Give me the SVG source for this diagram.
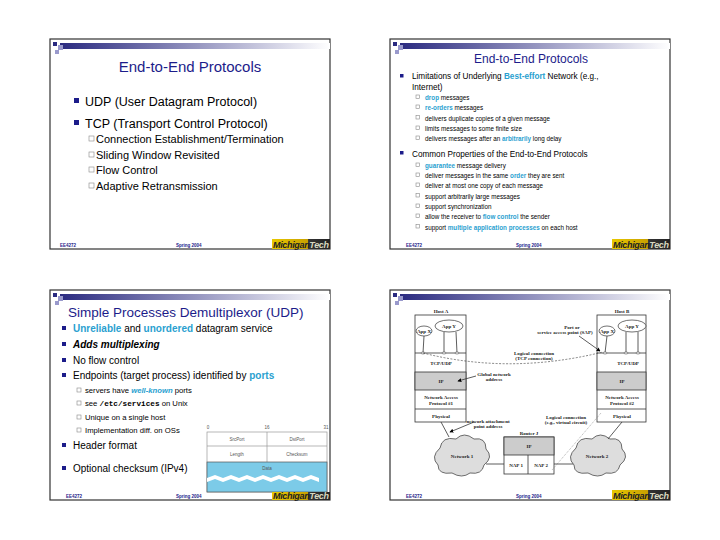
<svg xmlns="http://www.w3.org/2000/svg" width="720" height="540" viewBox="0 0 720 540">
<defs>
<linearGradient id="bar" x1="0" x2="1" y1="0" y2="0"><stop offset="0" stop-color="#2a2a80"/><stop offset="1" stop-color="#ffffff"/></linearGradient>
<linearGradient id="logo" x1="0" x2="1"><stop offset="0" stop-color="#e8c800"/><stop offset="0.62" stop-color="#c8a000"/><stop offset="0.63" stop-color="#333"/><stop offset="1" stop-color="#222"/></linearGradient>
<marker id="ah" viewBox="0 0 6 6" refX="5" refY="3" markerWidth="5" markerHeight="5" orient="auto"><path d="M0,0 L6,3 L0,6 z" fill="#000"/></marker>
</defs>
<style>
.frame{fill:#fff;stroke:#333;stroke-width:1.2}
text{font-family:"Liberation Sans",Arial,sans-serif}
.t{fill:#1c1c8a;text-anchor:middle}
.hl{fill:#2a9fd0;font-weight:bold}
.ft{font-size:4.5px;fill:#1c1c8a;font-weight:bold}
.sq{fill:#1c1c8a}
.sb{fill:none;stroke:#888;stroke-width:0.6}
.d{font-family:"Liberation Serif","Times New Roman",serif;font-size:5px;text-anchor:middle;font-weight:bold;fill:#222}
.ln{stroke:#333;stroke-width:0.8;fill:none}
.lg{font-size:9px;font-style:italic;font-weight:bold;fill:#222}
.lt{fill:#d8d8c0}
</style>
<rect width="720" height="540" fill="#fff"/>
<g id="slide1">
<rect class="frame" x="50" y="39" width="280" height="210"/>
<rect x="60" y="43" width="270" height="6" fill="url(#bar)"/>
<rect x="53" y="42" width="4" height="4" fill="#2a2a80"/><rect x="58" y="45" width="5" height="5" fill="#9999cc"/><rect x="55" y="50" width="4" height="4" fill="#9999cc"/>
<text class="t" x="190" y="72" font-size="15">End-to-End Protocols</text>
<rect class="sq" x="74" y="98" width="5" height="5"/><text x="85" y="106" font-size="12.5">UDP (User Datagram Protocol)</text>
<rect class="sq" x="74" y="120" width="5" height="5"/><text x="85" y="128" font-size="12.5">TCP (Transport Control Protocol)</text>
<g font-size="11"><rect class="sb" x="89" y="136" width="5" height="5"/><text x="96" y="143">Connection Establishment/Termination</text>
<rect class="sb" x="89" y="152" width="5" height="5"/><text x="96" y="159">Sliding Window Revisited</text>
<rect class="sb" x="89" y="167" width="5" height="5"/><text x="96" y="174">Flow Control</text>
<rect class="sb" x="89" y="183" width="5" height="5"/><text x="96" y="190">Adaptive Retransmission</text></g>
<text class="ft" x="60" y="247">EE4272</text><text class="ft" x="176" y="247">Spring 2004</text>
<rect x="272" y="239" width="58" height="10" fill="url(#logo)"/><text class="lg" x="273" y="247.5" textLength="56">Michigan<tspan class="lt">Tech</tspan></text>
</g>
<g id="slide2">
<rect class="frame" x="390" y="39" width="280" height="210"/>
<rect x="400" y="43" width="270" height="6" fill="url(#bar)"/>
<rect x="393" y="42" width="4" height="4" fill="#2a2a80"/><rect x="398" y="45" width="5" height="5" fill="#9999cc"/><rect x="395" y="50" width="4" height="4" fill="#9999cc"/>
<text class="t" x="531" y="63" font-size="12">End-to-End Protocols</text>
<g font-size="8.2"><rect class="sq" x="400" y="74" width="3.5" height="3.5"/><text x="412" y="79">Limitations of Underlying <tspan class="hl">Best-effort</tspan> Network (e.g.,</text><text x="412" y="90">Internet)</text>
<rect class="sq" x="400" y="151" width="3.5" height="3.5"/><text x="412" y="157">Common Properties of the End-to-End Protocols</text></g>
<g font-size="6.3">
<rect class="sb" x="416" y="95" width="3.5" height="3.5"/><text x="425" y="100"><tspan class="hl">drop</tspan> messages</text>
<rect class="sb" x="416" y="105" width="3.5" height="3.5"/><text x="425" y="110"><tspan class="hl">re-orders</tspan> messages</text>
<rect class="sb" x="416" y="115.5" width="3.5" height="3.5"/><text x="425" y="120.5">delivers duplicate copies of a given message</text>
<rect class="sb" x="416" y="126" width="3.5" height="3.5"/><text x="425" y="131">limits messages to some finite size</text>
<rect class="sb" x="416" y="136" width="3.5" height="3.5"/><text x="425" y="141">delivers messages after an <tspan class="hl">arbitrarily</tspan> long delay</text>
<rect class="sb" x="416" y="163" width="3.5" height="3.5"/><text x="425" y="168"><tspan class="hl">guarantee</tspan> message delivery</text>
<rect class="sb" x="416" y="173" width="3.5" height="3.5"/><text x="425" y="178">deliver messages in the same <tspan class="hl">order</tspan> they are sent</text>
<rect class="sb" x="416" y="183" width="3.5" height="3.5"/><text x="425" y="188">deliver at most one copy of each message</text>
<rect class="sb" x="416" y="193.5" width="3.5" height="3.5"/><text x="425" y="198.5">support arbitrarily large messages</text>
<rect class="sb" x="416" y="204" width="3.5" height="3.5"/><text x="425" y="209">support synchronization</text>
<rect class="sb" x="416" y="214" width="3.5" height="3.5"/><text x="425" y="219">allow the receiver to <tspan class="hl">flow control</tspan> the sender</text>
<rect class="sb" x="416" y="224.5" width="3.5" height="3.5"/><text x="425" y="229.5">support <tspan class="hl">multiple application processes</tspan> on each host</text></g>
<text class="ft" x="406" y="247">EE4272</text><text class="ft" x="516" y="247">Spring 2004</text>
<rect x="612" y="239" width="58" height="10" fill="url(#logo)"/><text class="lg" x="613" y="247.5" textLength="56">Michigan<tspan class="lt">Tech</tspan></text>
</g>
<g id="slide3">
<rect class="frame" x="50" y="290" width="280" height="210"/>
<rect x="60" y="294" width="270" height="6" fill="url(#bar)"/>
<rect x="53" y="293" width="4" height="4" fill="#2a2a80"/><rect x="58" y="296" width="5" height="5" fill="#9999cc"/><rect x="55" y="301" width="4" height="4" fill="#9999cc"/>
<text x="68" y="317" font-size="13.5" fill="#1c1c8a">Simple Processes Demultiplexor (UDP)</text>
<g font-size="10">
<rect class="sq" x="62" y="326" width="4" height="4"/><text x="73" y="332"><tspan class="hl">Unreliable</tspan> and <tspan class="hl">unordered</tspan> datagram service</text>
<rect class="sq" x="62" y="342" width="4" height="4"/><text x="73" y="348" font-weight="bold" font-style="italic">Adds multiplexing</text>
<rect class="sq" x="62" y="358" width="4" height="4"/><text x="73" y="364">No flow control</text>
<rect class="sq" x="62" y="373" width="4" height="4"/><text x="73" y="379">Endpoints (target process) identified by <tspan class="hl">ports</tspan></text>
<rect class="sq" x="62" y="443" width="4" height="4"/><text x="73" y="449">Header format</text>
<rect class="sq" x="62" y="466" width="4" height="4"/><text x="73" y="472">Optional checksum (IPv4)</text></g>
<g font-size="7.7">
<rect class="sb" x="77" y="388" width="4" height="4"/><text x="85" y="393">servers have <tspan class="hl" font-style="italic">well-known</tspan> ports</text>
<rect class="sb" x="77" y="401" width="4" height="4"/><text x="85" y="406">see <tspan font-family="Liberation Mono,monospace" font-weight="bold">/etc/services</tspan> on Unix</text>
<rect class="sb" x="77" y="415" width="4" height="4"/><text x="85" y="420">Unique on a single host</text>
<rect class="sb" x="77" y="428" width="4" height="4"/><text x="85" y="433">Implementation diff. on OSs</text></g>
<g id="udp-header" font-size="4.5" fill="#555" text-anchor="middle">
<text x="208" y="429">0</text><text x="267" y="429">16</text><text x="326" y="429">31</text>
<rect x="207" y="432" width="120" height="60" fill="#fff" stroke="#999" stroke-width="0.7"/>
<line x1="207" y1="446" x2="327" y2="446" stroke="#999" stroke-width="0.7"/>
<line x1="267" y1="432" x2="267" y2="462" stroke="#999" stroke-width="0.7"/>
<rect x="207" y="462" width="120" height="30" fill="#7ccbe8" stroke="#555" stroke-width="0.7"/>
<path d="M207,478 l8,-3 8,3 8,-3 8,3 8,-3 8,3 8,-3 8,3 8,-3 8,3 8,-3 8,3 8,-3 8,3 v4 l-8,-3 -8,3 -8,-3 -8,3 -8,-3 -8,3 -8,-3 -8,3 -8,-3 -8,3 -8,-3 -8,3 -8,-3 -8,3 z" fill="#fff"/>
<text x="237" y="441">SrcPort</text><text x="297" y="441">DstPort</text>
<text x="237" y="456">Length</text><text x="297" y="456">Checksum</text>
<text x="267" y="470">Data</text></g>
<text class="ft" x="66" y="498">EE4272</text><text class="ft" x="176" y="498">Spring 2004</text>
<rect x="272" y="492" width="58" height="8" fill="url(#logo)"/><text class="lg" x="273" y="499" font-size="8" textLength="56">Michigan<tspan class="lt">Tech</tspan></text>
</g>
<g id="slide4">
<rect class="frame" x="390" y="290" width="280" height="210"/>
<rect x="400" y="294" width="270" height="6" fill="url(#bar)"/>
<rect x="393" y="293" width="4" height="4" fill="#2a2a80"/><rect x="398" y="296" width="5" height="5" fill="#9999cc"/><rect x="395" y="301" width="4" height="4" fill="#9999cc"/>
<g id="hostA">
<text class="d" x="441" y="313">Host A</text>
<rect x="415" y="315" width="51" height="107" fill="#fff" stroke="#333" stroke-width="0.8"/>
<rect x="415" y="372" width="51" height="18" fill="#ccc" stroke="#333" stroke-width="0.8"/>
<line class="ln" x1="415" y1="353" x2="466" y2="353"/><line class="ln" x1="415" y1="409" x2="466" y2="409"/>
<ellipse cx="424" cy="331" rx="8" ry="5" fill="#fff" stroke="#333" stroke-width="0.7"/><ellipse cx="449" cy="326" rx="14" ry="6" fill="#fff" stroke="#333" stroke-width="0.7"/>
<line class="ln" x1="424" y1="336" x2="423" y2="353"/><line class="ln" x1="444" y1="332" x2="444" y2="353"/><line class="ln" x1="456" y1="332" x2="457" y2="353"/>
<ellipse cx="423" cy="353" rx="2" ry="1" fill="#fff" stroke="#333" stroke-width="0.5"/><ellipse cx="444" cy="353" rx="2" ry="1" fill="#fff" stroke="#333" stroke-width="0.5"/><ellipse cx="457" cy="353" rx="2" ry="1" fill="#fff" stroke="#333" stroke-width="0.5"/>
<text class="d" x="424" y="332.5" font-size="3">App X</text><text class="d" x="449" y="328" font-size="3.5">App Y</text>
<text class="d" x="441" y="365">TCP/UDP</text><text class="d" x="441" y="383">IP</text>
<text class="d" x="441" y="399" font-size="4">Network Access</text><text class="d" x="441" y="405" font-size="4">Protocol #1</text>
<text class="d" x="441" y="418">Physical</text></g>
<g id="hostB">
<text class="d" x="622" y="313">Host B</text>
<rect x="597" y="315" width="49" height="107" fill="#fff" stroke="#333" stroke-width="0.8"/>
<rect x="597" y="372" width="49" height="18" fill="#ccc" stroke="#333" stroke-width="0.8"/>
<line class="ln" x1="597" y1="353" x2="646" y2="353"/><line class="ln" x1="597" y1="409" x2="646" y2="409"/>
<ellipse cx="607" cy="331" rx="8" ry="5" fill="#fff" stroke="#333" stroke-width="0.7"/><ellipse cx="632" cy="326" rx="14" ry="6" fill="#fff" stroke="#333" stroke-width="0.7"/>
<line class="ln" x1="607" y1="336" x2="605" y2="353"/><line class="ln" x1="626" y1="332" x2="626" y2="353"/><line class="ln" x1="638" y1="332" x2="638" y2="353"/>
<ellipse cx="605" cy="353" rx="2" ry="1" fill="#fff" stroke="#333" stroke-width="0.5"/><ellipse cx="626" cy="353" rx="2" ry="1" fill="#fff" stroke="#333" stroke-width="0.5"/><ellipse cx="638" cy="353" rx="2" ry="1" fill="#fff" stroke="#333" stroke-width="0.5"/>
<text class="d" x="607" y="332.5" font-size="3">App X</text><text class="d" x="632" y="328" font-size="3.5">App Y</text>
<text class="d" x="628" y="365">TCP/UDP</text><text class="d" x="622" y="383">IP</text>
<text class="d" x="622" y="399" font-size="4">Network Access</text><text class="d" x="622" y="405" font-size="4">Protocol #2</text>
<text class="d" x="622" y="418">Physical</text></g>
<g id="router">
<text class="d" x="529" y="435">Router J</text>
<rect x="504" y="437" width="50" height="37" fill="#fff" stroke="#333" stroke-width="0.8"/>
<rect x="504" y="437" width="50" height="18" fill="#ccc" stroke="#333" stroke-width="0.8"/>
<line class="ln" x1="528" y1="455" x2="528" y2="474"/>
<text class="d" x="529" y="448">IP</text><text class="d" x="516" y="467">NAP 1</text><text class="d" x="541" y="467">NAP 2</text></g>
<g id="net1"><path d="M440,448 q2,-12 16,-9 q8,-8 18,0 q12,-2 12,10 q8,8 -2,16 q-2,10 -14,8 q-8,6 -18,0 q-14,2 -14,-8 q-8,-8 2,-17 z" fill="#ddd" stroke="#333" stroke-width="0.7"/><text class="d" x="462" y="458">Network 1</text></g>
<g id="net2"><path d="M576,448 q2,-12 16,-9 q8,-8 18,0 q12,-2 12,10 q8,8 -2,16 q-2,10 -14,8 q-8,6 -18,0 q-14,2 -14,-8 q-8,-8 2,-17 z" fill="#ddd" stroke="#333" stroke-width="0.7"/><text class="d" x="597" y="458">Network 2</text></g>
<g id="connectors">
<line class="ln" x1="441" y1="422" x2="449" y2="437"/><line class="ln" x1="622" y1="422" x2="608" y2="439"/>
<line class="ln" x1="486" y1="464" x2="504" y2="464"/><line class="ln" x1="554" y1="464" x2="573" y2="464"/>
<path d="M423,353 Q510,375 603,352" fill="none" stroke="#333" stroke-width="0.6" stroke-dasharray="2,1.5"/>
<line x1="601" y1="413" x2="552" y2="470" stroke="#666" stroke-width="0.5" stroke-dasharray="1,1"/>
<line class="ln" stroke-width="0.5" x1="579" y1="336" x2="600" y2="351" marker-end="url(#ah)"/>
<line class="ln" stroke-width="0.5" x1="476" y1="376" x2="458" y2="381" marker-end="url(#ah)"/>
<line class="ln" stroke-width="0.5" x1="474" y1="422" x2="450" y2="432" marker-end="url(#ah)"/>
</g>
<g>
<text class="d" x="572" y="329" font-size="3.6">Port or</text><text class="d" x="565" y="334" font-size="3.6">service access point (SAP)</text>
<text class="d" x="534" y="355" font-size="3.6">Logical connection</text><text class="d" x="534" y="360" font-size="3.6">(TCP connection)</text>
<text class="d" x="494" y="376" font-size="3.6">Global network</text><text class="d" x="494" y="381" font-size="3.6">address</text>
<text class="d" x="488" y="423" font-size="3.6">network attachment</text><text class="d" x="488" y="428" font-size="3.6">point address</text>
<text class="d" x="566" y="419" font-size="3.6">Logical connection</text><text class="d" x="566" y="424" font-size="3.6">(e.g., virtual circuit)</text></g>
<text class="ft" x="406" y="498">EE4272</text><text class="ft" x="516" y="498">Spring 2004</text>
<rect x="612" y="490" width="58" height="10" fill="url(#logo)"/><text class="lg" x="613" y="498.5" textLength="56">Michigan<tspan class="lt">Tech</tspan></text>
</g>
</svg>
